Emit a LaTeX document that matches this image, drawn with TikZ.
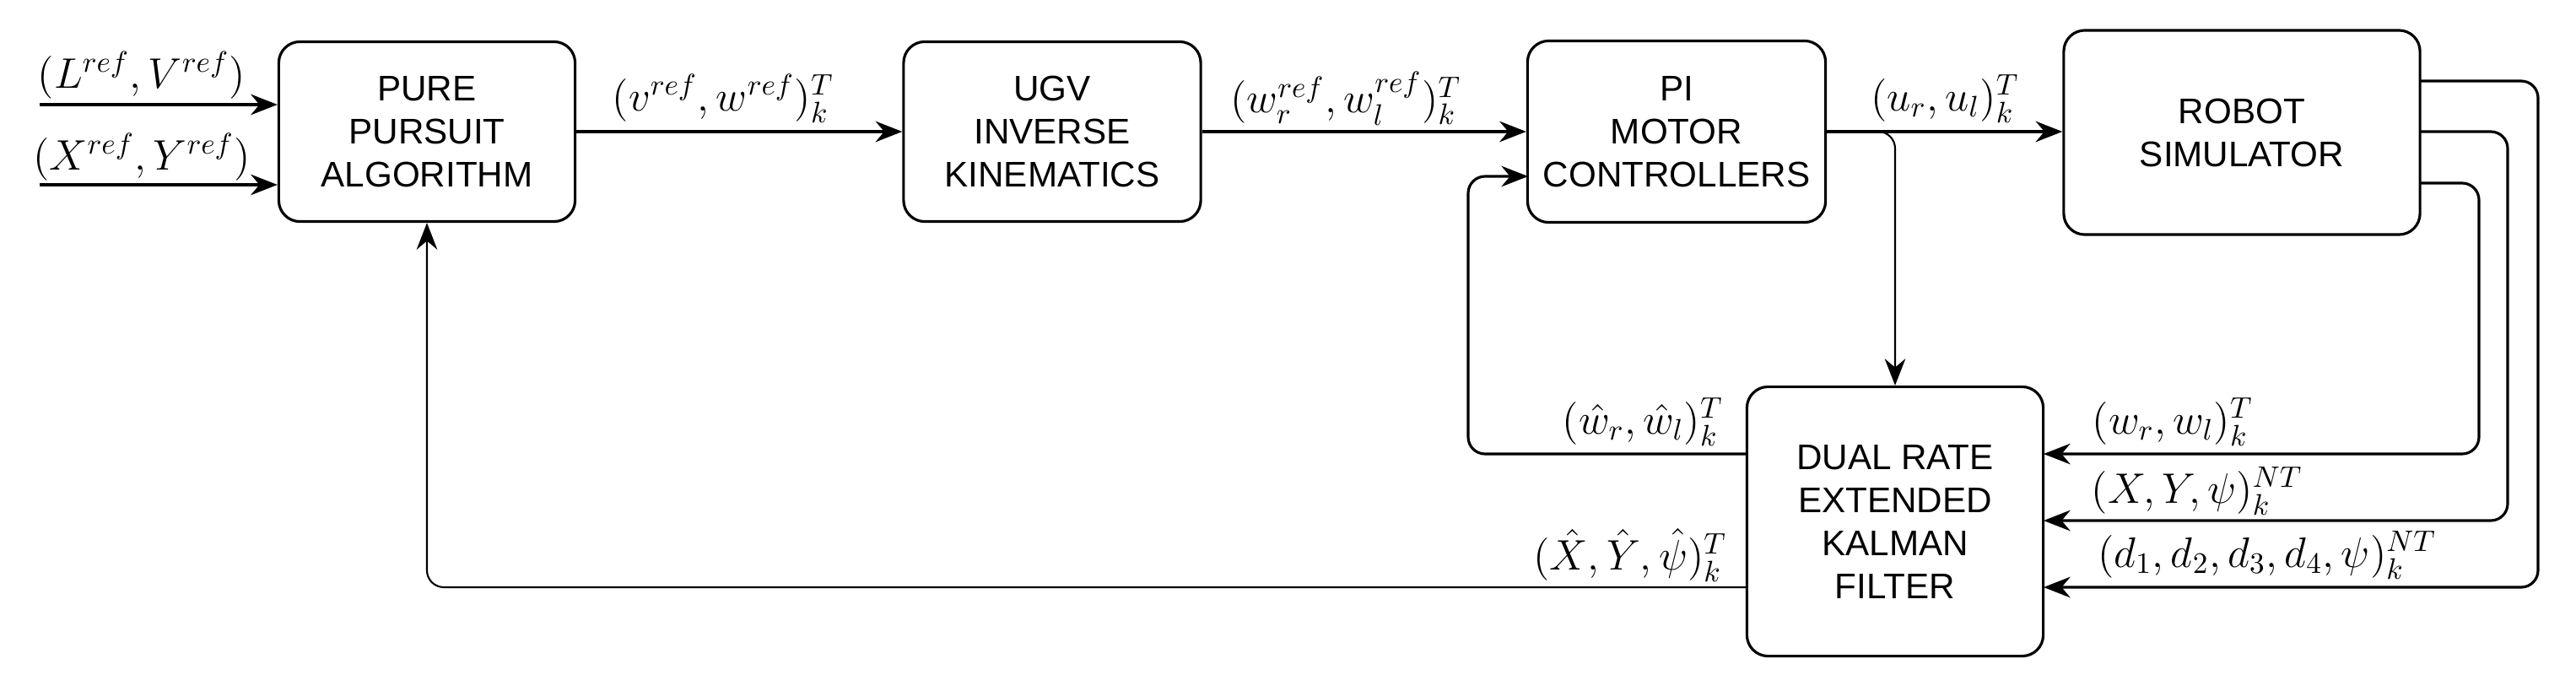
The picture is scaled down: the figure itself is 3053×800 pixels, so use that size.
\documentclass[tikz,border=0pt]{standalone}
\usepackage{amsmath, amssymb}
\usepackage{fontspec}
\setmainfont{Liberation Sans}
\usetikzlibrary{arrows.meta, calc}

\begin{document}
\begin{tikzpicture}
        [x=0.01cm, y=-0.01cm,
        block/.style={draw, line width=0.9pt, rounded corners=0.25cm, align=center, inner sep=0,
          font=\fontsize{12}{14.5}\selectfont},
        sig/.style={line width=0.9pt, -{Stealth[length=9pt,width=7pt]}, rounded corners=0.2cm},
        lbl/.style={font=\fontsize{14.5}{17}\selectfont}]

        \useasboundingbox (0,0) rectangle (3053,800);

        \node[block, minimum width=3.51cm, minimum height=2.13cm] (pure) at (506,156) {PURE\\PURSUIT\\ALGORITHM};
        \node[block, minimum width=3.52cm, minimum height=2.13cm] (ugv) at (1247,156) {UGV\\INVERSE\\KINEMATICS};
        \node[block, minimum width=3.53cm, minimum height=2.15cm] (pi) at (1987,156) {PI\\MOTOR\\CONTROLLERS};
        \node[block, minimum width=4.22cm, minimum height=2.42cm] (robot) at (2657,157) {ROBOT\\SIMULATOR};
        \node[block, minimum width=3.51cm, minimum height=3.19cm] (dekf) at (2246,618) {DUAL RATE\\EXTENDED\\KALMAN\\FILTER};

        \coordinate (inL) at (47,124);
        \coordinate (inX) at (47,219);
        \coordinate (o1) at (2868,96);
        \coordinate (o2) at (2868,156);
        \coordinate (o3) at (2868,217);
        \coordinate (i1) at (2422,538);
        \coordinate (i2) at (2422,617);
        \coordinate (i3) at (2422,696);
        \coordinate (fbw) at (2071,538);
        \coordinate (fbx) at (2071,696);
        \coordinate (piin) at (1811,209);

        \draw[sig] (inL) -- (inL -| pure.west);
        \draw[sig] (inX) -- (inX -| pure.west);
        \draw[sig] (pure) -- (ugv);
        \draw[sig] (ugv) -- (pi);
        \draw[sig] (pi) -- (robot.west |- pi.east);
        \draw[sig, line width=0.6pt] (pi.east) -| (dekf.north);
        \draw[sig] (o3) -| (2938,538) -- (i1);
        \draw[sig] (o2) -| (2972,617) -- (i2);
        \draw[sig] (o1) -| (3008,696) -- (i3);
        \draw[sig] (fbw) -| (1740,209) -- (piin);
        \draw[sig, line width=0.6pt] (fbx) -| (pure.south);

        \node[lbl] (lLV) at (168,89) {$(L^{ref},V^{ref})$};
        \node[lbl] (lXY) at (168,186) {$(X^{ref},Y^{ref})$};
        \node[lbl] (lvw) at (857,117) {$(v^{ref},w^{ref})_k^T$};
        \node[lbl] (lwrl) at (1595,117) {$(w_r^{ref},w_l^{ref})_k^T$};
        \node[lbl] (lu) at (2305,117) {$(u_r,u_l)_k^T$};
        \node[lbl] (lhw) at (1947,500) {$(\hat{w}_r,\hat{w}_l)_k^T$};
        \node[lbl] (lhx) at (1932,658) {$(\hat{X},\hat{Y},\hat{\psi})_k^T$};
        \node[lbl] (lw) at (2575,500) {$(w_r,w_l)_k^T$};
        \node[lbl] (lxyp) at (2604,582) {$(X,Y,\psi)_k^{NT}$};
        \node[lbl] (ld) at (2687,658) {$(d_1,d_2,d_3,d_4,\psi)_k^{NT}$};
\end{tikzpicture}
\end{document}
